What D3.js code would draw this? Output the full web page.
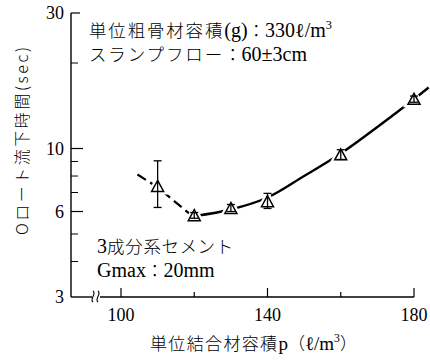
<!DOCTYPE html>
<html><head><meta charset="utf-8">
<script src="https://cdn.jsdelivr.net/npm/d3@7"></script>
<style>body{margin:0;background:#fff}svg{display:block}</style>
</head><body>
<svg id="c" width="430" height="360"></svg>
<script>
// ---- data ----
const pointP = [110, 120, 130, 140, 160, 180];
const pointT = [7.35, 5.8, 6.15, 6.5, 9.5, 14.9];
const errLow = [6.2, 5.68, 6.0, 6.15, 9.15, 14.55];
const errHigh = [9.05, 5.95, 6.35, 6.95, 9.9, 15.3];
const dashLeftP = [104.5, 110, 119.5];
const dashLeftT = [8.1, 7.3, 5.78];
const curveP = [120, 130, 140, 150, 160, 170, 180];
const curveT = [5.78, 6.1, 6.72, 8.0, 9.6, 11.9, 14.9];
const dashRightP = [180, 184];
const dashRightT = [14.9, 16.4];
const yMajor = [3, 6, 10, 30];
const yMinor = [4, 5, 7, 8, 9, 20];
const xTicks = [100, 120, 140, 160, 180];
const xLabels = [100, 140, 180];

const svg = d3.select("#c");
const x = d3.scaleLinear().domain([100, 180]).range([121, 414]);
const y = d3.scaleLog().domain([3, 30]).range([297, 13]);
const axisLeft = 71, axisBottom = 297;
const serif = "'Liberation Serif', serif";
const cjk = "'Noto Sans CJK JP', sans-serif";

// y axis
svg.append("line").attr("x1", axisLeft).attr("x2", axisLeft).attr("y1", y(30)).attr("y2", axisBottom)
  .attr("stroke", "#000").attr("stroke-width", 1.4);
svg.selectAll(".ymaj").data(yMajor.filter(v => v !== 3)).join("line")
  .attr("x1", axisLeft).attr("x2", d => axisLeft + (d === 30 ? 9 : 12))
  .attr("y1", d => y(d)).attr("y2", d => y(d)).attr("stroke", "#000").attr("stroke-width", 1.2);
svg.selectAll(".ymin").data(yMinor).join("line")
  .attr("x1", axisLeft).attr("x2", axisLeft + 7)
  .attr("y1", d => y(d)).attr("y2", d => y(d)).attr("stroke", "#000").attr("stroke-width", 1);
svg.selectAll(".ylab").data(yMajor).join("text")
  .attr("x", 64).attr("y", d => y(d) + 6).attr("text-anchor", "end")
  .attr("font-family", serif).attr("font-size", 18).text(d => d);

// x axis with break
svg.append("line").attr("x1", axisLeft).attr("x2", 92).attr("y1", axisBottom).attr("y2", axisBottom)
  .attr("stroke", "#000").attr("stroke-width", 1.4);
svg.append("line").attr("x1", 100).attr("x2", x(180)).attr("y1", axisBottom).attr("y2", axisBottom)
  .attr("stroke", "#000").attr("stroke-width", 1.4);
[93, 98].forEach(bx => {
  svg.append("path").attr("d", `M${bx},${axisBottom - 6} C${bx + 4},${axisBottom - 3} ${bx - 4},${axisBottom + 2} ${bx},${axisBottom + 5}`)
    .attr("fill", "none").attr("stroke", "#000").attr("stroke-width", 1.1);
});
svg.selectAll(".xt").data(xTicks).join("line")
  .attr("x1", d => x(d)).attr("x2", d => x(d))
  .attr("y1", axisBottom).attr("y2", d => axisBottom - (xLabels.includes(d) ? 9 : 5))
  .attr("stroke", "#000").attr("stroke-width", 1.2);
svg.selectAll(".xl").data(xLabels).join("text")
  .attr("x", d => x(d)).attr("y", 321).attr("text-anchor", "middle")
  .attr("font-family", serif).attr("font-size", 18).text(d => d);

// lines
const line = d3.line().x(d => x(d[0])).y(d => y(d[1]));
svg.append("path").datum(dashLeftP.map((p, i) => [p, dashLeftT[i]]))
  .attr("d", line.curve(d3.curveLinear)).attr("fill", "none").attr("stroke", "#000")
  .attr("stroke-width", 2.2).attr("stroke-dasharray", "10,5");
svg.append("path").datum(curveP.map((p, i) => [p, curveT[i]]))
  .attr("d", line.curve(d3.curveCatmullRom)).attr("fill", "none").attr("stroke", "#000")
  .attr("stroke-width", 2.4);
svg.append("path").datum(dashRightP.map((p, i) => [p, dashRightT[i]]))
  .attr("d", line.curve(d3.curveLinear)).attr("fill", "none").attr("stroke", "#000")
  .attr("stroke-width", 2.4).attr("stroke-dasharray", "2,4,12,0");

// markers
const pts = pointP.map((p, i) => ({p, t: pointT[i], lo: errLow[i], hi: errHigh[i]}));
const tri = d => { const cx = x(d.p), cy = y(d.t); return `M${cx},${cy - 6} L${cx + 6},${cy + 5} L${cx - 6},${cy + 5} Z`; };
svg.selectAll(".halo").data(pts).join("path").attr("d", tri)
  .attr("fill", "#fff").attr("stroke", "#fff").attr("stroke-width", 6);
svg.selectAll(".tri").data(pts).join("path").attr("d", tri)
  .attr("fill", "#fff").attr("stroke", "#000").attr("stroke-width", 1.5);
const eb = svg.selectAll(".eb").data(pts).join("g");
eb.append("line").attr("x1", d => x(d.p)).attr("x2", d => x(d.p))
  .attr("y1", d => y(d.hi)).attr("y2", d => y(d.lo)).attr("stroke", "#000").attr("stroke-width", 1.3);
eb.append("line").attr("x1", d => x(d.p) - 4).attr("x2", d => x(d.p) + 4)
  .attr("y1", d => y(d.hi)).attr("y2", d => y(d.hi)).attr("stroke", "#000").attr("stroke-width", 1.3);
eb.append("line").attr("x1", d => x(d.p) - 4).attr("x2", d => x(d.p) + 4)
  .attr("y1", d => y(d.lo)).attr("y2", d => y(d.lo)).attr("stroke", "#000").attr("stroke-width", 1.3);

// mixed-script text helper: CJK letters (spaced), CJK punctuation, Latin runs; "^" marks superscript
const reLetter = /[\u3040-\u30ff\u4e00-\u9fff]/;
const rePunct = /[\u3000-\u303f\uff00-\uffef]/;
function mixedText(str, px, py, target, cjkSize, latSize) {
  const t = svg.append("text").attr("x", px).attr("y", py);
  const runs = str.match(/(\^.|[\u3040-\u30ff\u4e00-\u9fff]+|[\u3000-\u303f\uff00-\uffef]+|[^\u3000-\u30ff\u4e00-\u9fff\uff00-\uffef\^]+)/g);
  const cjkSpans = [];
  let sup = false;
  runs.forEach(r => {
    if (r[0] === "^") {
      t.append("tspan").attr("font-family", serif).attr("font-size", latSize * 0.62).attr("dy", -latSize * 0.4).text(r[1]);
      sup = true;
      return;
    }
    const isLetter = reLetter.test(r), isPunct = rePunct.test(r);
    const s = t.append("tspan").attr("font-family", (isLetter || isPunct) ? cjk : serif)
      .attr("font-size", (isLetter || isPunct) ? cjkSize : latSize)
      .attr("font-weight", (isLetter || isPunct) ? 300 : 400).text(r);
    if (sup) { s.attr("dy", latSize * 0.4); sup = false; }
    if (isLetter) cjkSpans.push([s, r.length]);
  });
  const len = t.node().getComputedTextLength();
  const n = d3.sum(cjkSpans, d => d[1]);
  if (n > 0) {
    const ls = Math.max(0, (target - len) / n);
    cjkSpans.forEach(([s]) => s.attr("letter-spacing", ls));
  }
  return t;
}

// annotations
mixedText("単位粗骨材容積(g)：330ℓ/m^3", 89, 37, 243, 17.5, 20);
mixedText("スランプフロー：60±3cm", 89, 61, 218, 17.5, 20);
mixedText("3成分系セメント", 97, 253, 137, 17.5, 20);
mixedText("Gmax：20mm", 97, 277, 116, 17.5, 20);

// axis titles
mixedText("単位結合材容積p（ℓ/m^3）", 150, 350, 207, 17, 19);

svg.append("text").attr("transform", "translate(28,141) rotate(-90)").attr("text-anchor", "middle")
  .attr("font-family", "'Noto Sans CJK JP','DejaVu Sans',sans-serif").attr("font-size", 16).attr("font-weight", 300)
  .attr("textLength", 188).attr("lengthAdjust", "spacing")
  .text("Oロート流下時間(sec)");
</script>
</body></html>
